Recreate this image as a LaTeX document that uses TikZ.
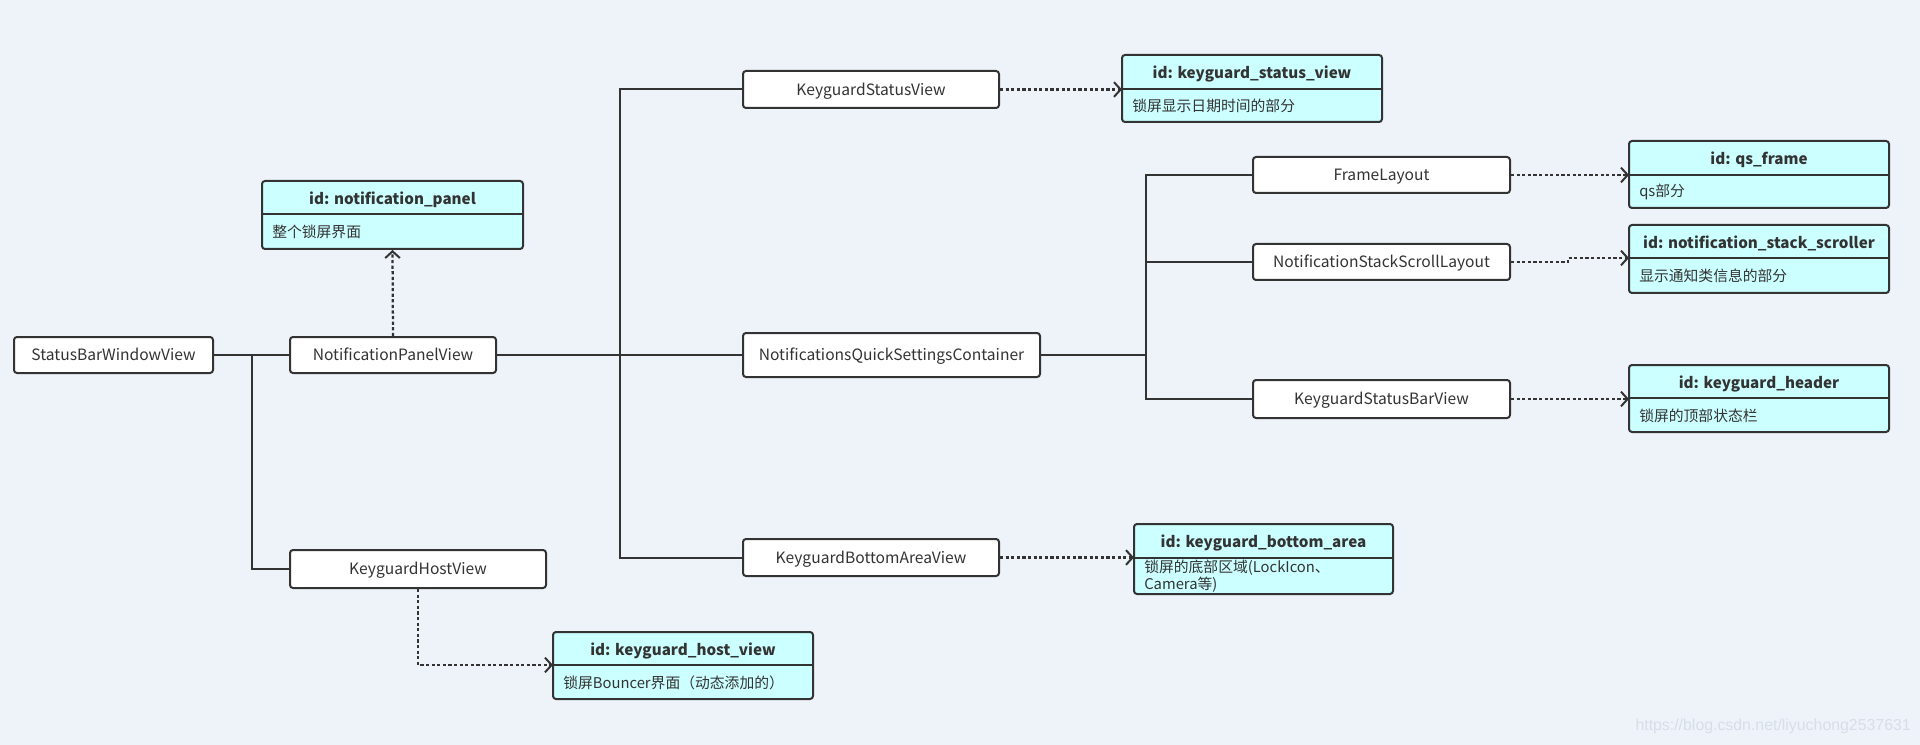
\documentclass[tikz,border=0pt]{standalone}
\usepackage{fontspec}
\setmainfont{Noto Sans CJK SC}
\newfontfamily\wmfont{Liberation Sans}
\usetikzlibrary{arrows.meta}
\definecolor{bg}{HTML}{EEF3FA}
\definecolor{cyanbox}{HTML}{CCFFFF}
\definecolor{ink}{HTML}{333333}
\definecolor{wm}{HTML}{D8DEE8}
\tikzset{
  box/.style={draw=ink, line width=1.5pt, fill=white, rounded corners=2.25pt, inner sep=0pt},
  boxtext/.style={font=\fontsize{11.7}{13}\selectfont, text=ink, inner sep=0pt,
    text height=8.6pt, text depth=2.4pt},
  idframe/.style={draw=ink, line width=1.5pt, fill=cyanbox, rounded corners=2.25pt, inner sep=0pt},
  idtitle/.style={font=\fontsize{11.4}{13}\selectfont\bfseries, text=ink, inner sep=0pt},
  idbody/.style={font=\fontsize{11.1}{11.5}\selectfont, text=ink, inner sep=0pt, align=left},
  divider/.style={draw=ink, line width=1.5pt},
  conn/.style={draw=ink, line width=1.5pt},
  thickconn/.style={draw=ink, line width=2.2pt},
  dasharrow/.style={draw=ink, line width=1.7pt, dash pattern=on 2.4pt off 1.8pt,
    -{Straight Barb[length=5pt, width=11pt, line width=1.5pt]}},
}
\newcommand\plainbox[6]{%
  \node[box, minimum width={(#4-#2)*0.75pt}, minimum height={(#5-#3)*0.75pt}]
    (#1) at ({(#2+#4)/2},{(#3+#5)/2}) {};
  \node[boxtext] (#1-l) at ({(#2+#4)/2},{(#3+#5)/2+1.5}) {#6};}
\newcommand\idbox[8]{%
  \node[idframe, minimum width={(#4-#2)*0.75pt}, minimum height={(#5-#3)*0.75pt}]
    (#1) at ({(#2+#4)/2},{(#3+#5)/2}) {};
  \coordinate (#1-d) at (#2,#6);
  \coordinate (#1-e) at (#4,#6);
  \draw[divider] (#1-d) -- (#1-e);
  \node[idtitle] (#1-t) at ({(#2+#4)/2},{(#3+#6)/2+2}) {#7};
  \node[idbody, anchor=west] (#1-b) at ({#2+10},{(#6+#5)/2+0.5}) {#8};}

\begin{document}
\begin{tikzpicture}[x=0.75pt,y=-0.75pt]
\fill[bg] (0,0) rectangle (1920,745);
\useasboundingbox (0,0) rectangle (1920,745);

% plain boxes
\plainbox{sbwv}{14}{337}{213}{373}{StatusBarWindowView}
\plainbox{npv}{290}{337}{496}{373}{NotificationPanelView}
\plainbox{khv}{290}{550}{546}{588}{KeyguardHostView}
\plainbox{ksv}{743}{71}{999}{108}{KeyguardStatusView}
\plainbox{nqsc}{743}{333}{1040}{377}{NotificationsQuickSettingsContainer}
\plainbox{kbav}{743}{539}{999}{576}{KeyguardBottomAreaView}
\plainbox{fl}{1253}{157}{1510}{193}{FrameLayout}
\plainbox{nssl}{1253}{244}{1510}{280}{NotificationStackScrollLayout}
\plainbox{ksbv}{1253}{380}{1510}{418}{KeyguardStatusBarView}

% id boxes
\idbox{npid}{262}{181}{523}{249}{214}{id: notification\_panel}{整个锁屏界面}
\idbox{hostid}{553}{632}{813}{699}{665}{id: keyguard\_host\_view}{锁屏Bouncer界面（动态添加的）}
\idbox{ksvid}{1122}{55}{1382}{122}{89}{id: keyguard\_status\_view}{锁屏显示日期时间的部分}
\idbox{bottomid}{1134}{524}{1393}{594}{558}{id: keyguard\_bottom\_area}{锁屏的底部区域(LockIcon、\\Camera等)}
\idbox{qsid}{1629}{141}{1889}{208}{175}{id: qs\_frame}{qs部分}
\idbox{ssid}{1629}{225}{1889}{293}{258}{id: notification\_stack\_scroller}{显示通知类信息的部分}
\idbox{hdrid}{1629}{365}{1889}{432}{398}{id: keyguard\_header}{锁屏的顶部状态栏}

% junctions
\coordinate (j1) at (252,355);
\coordinate (t1) at (620,355);
\coordinate (t2) at (1146,355);
\coordinate (jog) at (1568,262);

% solid connectors
\draw[conn] (sbwv.east) -- (npv.west);
\draw[conn] (j1) |- (khv.west);
\draw[thickconn] (npv.east) -- (t1);
\draw[conn] (t1) -- (nqsc.west);
\draw[conn] (ksv.west) -| (t1) |- (kbav.west);
\draw[thickconn] (nqsc.east) -- (t2);
\draw[conn] (fl.west) -| (t2) |- (ksbv.west);
\draw[conn] (nssl.west) -- (nssl.west -| t2);

% dashed arrows
\draw[dasharrow] (npv.north) -- (npid.south);
\draw[dasharrow] (khv.south) |- (hostid-d);
\draw[dasharrow] (ksv.east) -- (ksv.east -| ksvid-d);
\draw[dasharrow] (kbav.east) -- (kbav.east -| bottomid-d);
\draw[dasharrow] (fl.east) -- (fl.east -| qsid-d);
\draw[dasharrow] (nssl.east) -- (jog) |- (ssid-d);
\draw[dasharrow] (ksbv.east) -- (ksbv.east -| hdrid-d);

% watermark
\node[font=\wmfont\fontsize{11.9}{13}\selectfont, text=wm, anchor=east, inner sep=0pt] (wmark) at (1911,726) {https://blog.csdn.net/liyuchong2537631};
\end{tikzpicture}
\end{document}
